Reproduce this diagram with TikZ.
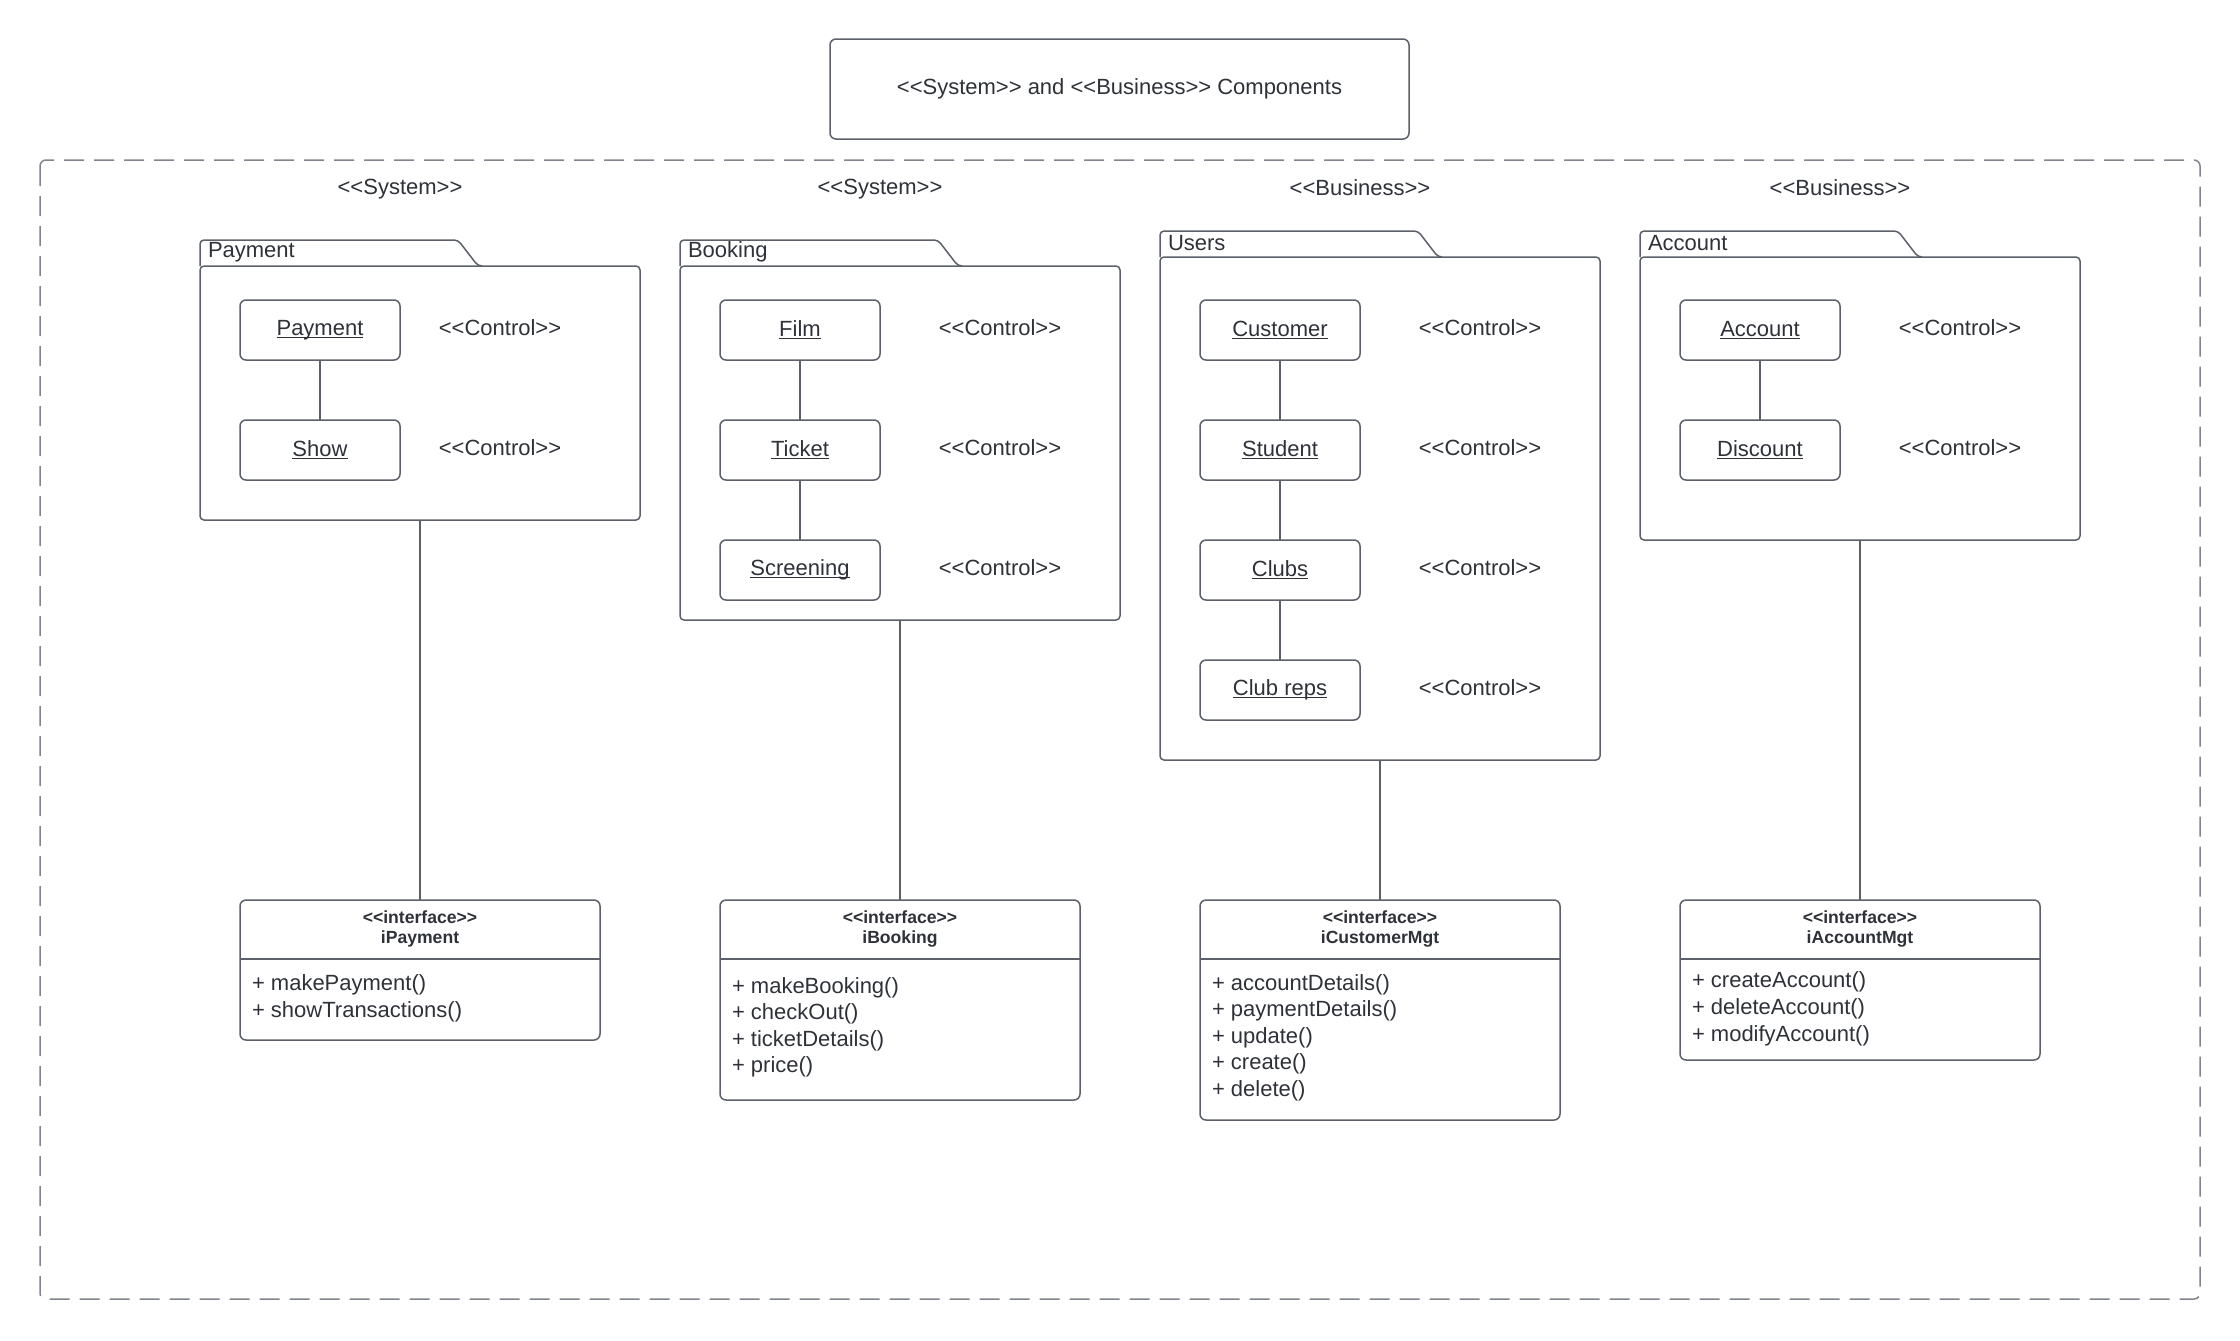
\documentclass[tikz,border=0pt]{standalone}
\usepackage{fontspec}
\setmainfont{Liberation Sans}
\newfontfamily\lib{Liberation Sans}
\definecolor{txt}{HTML}{2E3238}
\definecolor{lne}{HTML}{5C6068}
\definecolor{dsh}{HTML}{80848C}
\newcommand\myul[1]{\setbox0\hbox{#1}\rlap{\rule[-1.3pt]{\wd0}{0.6pt}}\box0}
\begin{document}
\begin{tikzpicture}[x=0.5pt,y=-0.5pt,
 every node/.style={text=txt, inner sep=0pt, outer sep=0pt, font=\lib\fontsize{11}{13.5}\selectfont},
 ln/.style={draw=lne, line width=0.75pt},
 pkg/.style={ln, rounded corners=2pt, anchor=north west, minimum width=220pt},
 cls/.style={ln, rounded corners=3pt, minimum width=80pt, minimum height=30pt},
 ifc/.style={ln, rounded corners=3pt, anchor=north, minimum width=180pt},
 hdr/.style={font=\lib\bfseries\fontsize{8.8}{10}\selectfont},
 mth/.style={anchor=west, text height=8pt, text depth=2pt},
 tab/.style={ln, rounded corners=2pt},
 plab/.style={anchor=west},
]
\useasboundingbox (0,0) rectangle (2240,1340);
% frame
\draw[draw=dsh, line width=0.75pt, dash pattern=on 10pt off 5pt, rounded corners=3pt] (40,160) rectangle (2200,1299);
% title
\node[ln, rounded corners=3pt, minimum width=289.5pt, minimum height=50pt] (title) at (1119.5,89) {<<System>> and <<Business>> Components};
% stereotypes
\node (stA) at (400,189) {<<System>>};
\node (stB) at (880,189) {<<System>>};
\node (stC) at (1360,188) {<<Business>>};
\node (stD) at (1840,188) {<<Business>>};

% ---------- Payment package
\node[pkg, minimum height=127pt] (pkgA) at (200,266) {};
\draw[tab] (200,266) -- (200,240) -- (458,240) -- (478,266) -- (482,266);
\node[plab] (pkgAl) at (208,252) {Payment};
\node[cls] (a1) at (320,330) {\myul{Payment}};
\node[cls] (a2) at (320,450) {\myul{Show}};
\node (a1c) at (500,328) {<<Control>>};
\node (a2c) at (500,448) {<<Control>>};
\draw[ln] (a1) -- (a2);

% ---------- Booking package
\node[pkg, minimum height=177pt] (pkgB) at (680,266) {};
\draw[tab] (680,266) -- (680,240) -- (938,240) -- (958,266) -- (962,266);
\node[plab] (pkgBl) at (688,252) {Booking};
\node[cls] (b1) at (800,330) {\myul{Film}};
\node[cls] (b2) at (800,450) {\myul{Ticket}};
\node[cls] (b3) at (800,570) {\myul{Screening}};
\node (b1c) at (1000,328) {<<Control>>};
\node (b2c) at (1000,448) {<<Control>>};
\node (b3c) at (1000,568) {<<Control>>};
\draw[ln] (b1) -- (b2);
\draw[ln] (b2) -- (b3);

% ---------- Users package
\node[pkg, minimum height=251.5pt] (pkgC) at (1160,257) {};
\draw[tab] (1160,257) -- (1160,231) -- (1418,231) -- (1438,257) -- (1442,257);
\node[plab] (pkgCl) at (1168,243) {Users};
\node[cls] (c1) at (1280,330) {\myul{Customer}};
\node[cls] (c2) at (1280,450) {\myul{Student}};
\node[cls] (c3) at (1280,570) {\myul{Clubs}};
\node[cls] (c4) at (1280,690) {\myul{Club reps}};
\node (c1c) at (1480,328) {<<Control>>};
\node (c2c) at (1480,448) {<<Control>>};
\node (c3c) at (1480,568) {<<Control>>};
\node (c4c) at (1480,688) {<<Control>>};
\draw[ln] (c1) -- (c2);
\draw[ln] (c2) -- (c3);
\draw[ln] (c3) -- (c4);

% ---------- Account package
\node[pkg, minimum height=141.5pt] (pkgD) at (1640,257) {};
\draw[tab] (1640,257) -- (1640,231) -- (1898,231) -- (1918,257) -- (1922,257);
\node[plab] (pkgDl) at (1648,243) {Account};
\node[cls] (d1) at (1760,330) {\myul{Account}};
\node[cls] (d2) at (1760,450) {\myul{Discount}};
\node (d1c) at (1960,328) {<<Control>>};
\node (d2c) at (1960,448) {<<Control>>};
\draw[ln] (d1) -- (d2);

% ---------- Interfaces
\node[ifc, minimum height=70pt] (ia) at (420,900) {};
\draw[ln] (240,959) -- (600,959);
\node[hdr] (iah1) at (420,917) {<<interface>>};
\node[hdr] (iah2) at (420,939) {iPayment};
\node[mth] (iam1) at (252,984) {+ makePayment()};
\node[mth] (iam2) at (252,1011) {+ showTransactions()};

\node[ifc, minimum height=100pt] (ib) at (900,900) {};
\draw[ln] (720,959) -- (1080,959);
\node[hdr] (ibh1) at (900,917) {<<interface>>};
\node[hdr] (ibh2) at (900,939) {iBooking};
\node[mth] (ibm1) at (732,987) {+ makeBooking()};
\node[mth] (ibm2) at (732,1013) {+ checkOut()};
\node[mth] (ibm3) at (732,1040) {+ ticketDetails()};
\node[mth] (ibm4) at (732,1066) {+ price()};

\node[ifc, minimum height=110pt] (ic) at (1380,900) {};
\draw[ln] (1200,959) -- (1560,959);
\node[hdr] (ich1) at (1380,917) {<<interface>>};
\node[hdr] (ich2) at (1380,939) {iCustomerMgt};
\node[mth] (icm1) at (1212,984) {+ accountDetails()};
\node[mth] (icm2) at (1212,1010) {+ paymentDetails()};
\node[mth] (icm3) at (1212,1037) {+ update()};
\node[mth] (icm4) at (1212,1063) {+ create()};
\node[mth] (icm5) at (1212,1090) {+ delete()};

\node[ifc, minimum height=80pt] (id) at (1860,900) {};
\draw[ln] (1680,959) -- (2040,959);
\node[hdr] (idh1) at (1860,917) {<<interface>>};
\node[hdr] (idh2) at (1860,939) {iAccountMgt};
\node[mth] (idm1) at (1692,981) {+ createAccount()};
\node[mth] (idm2) at (1692,1008) {+ deleteAccount()};
\node[mth] (idm3) at (1692,1035) {+ modifyAccount()};

% ---------- connectors
\draw[ln] (pkgA.south) -- (ia.north);
\draw[ln] (pkgB.south) -- (ib.north);
\draw[ln] (pkgC.south) -- (ic.north);
\draw[ln] (pkgD.south) -- (id.north);
\end{tikzpicture}
\end{document}
